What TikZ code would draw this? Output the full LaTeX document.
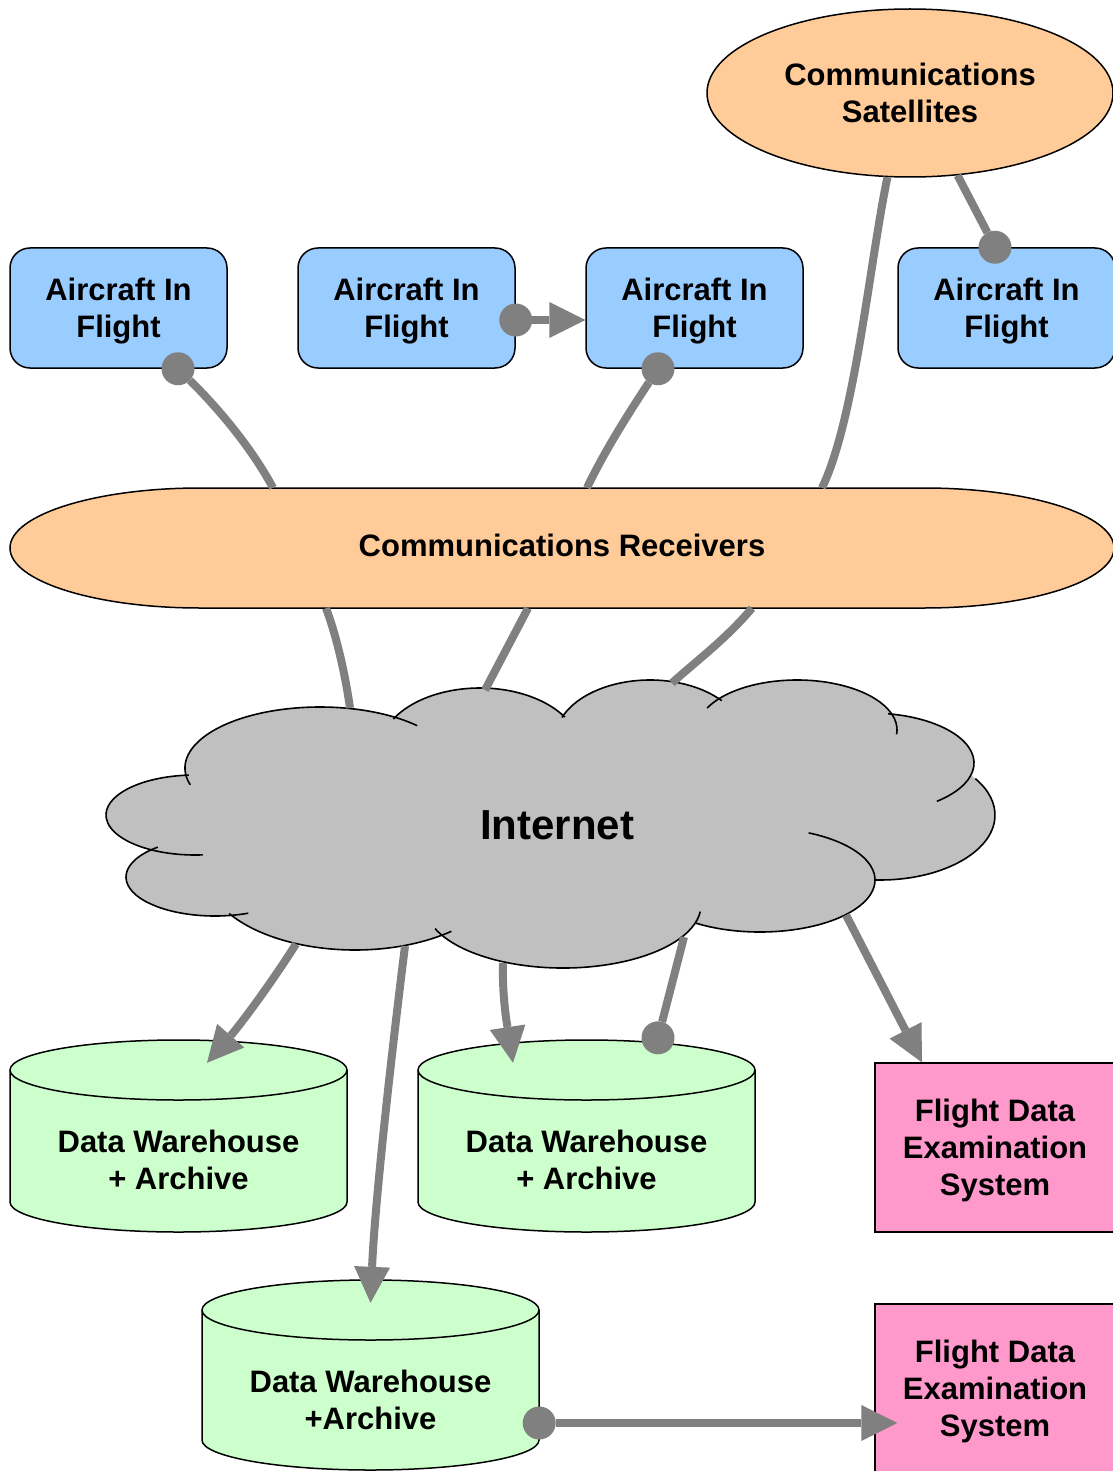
\documentclass[tikz,border=0pt]{standalone}
\usepackage{fontspec}
\setmainfont{Liberation Sans}
\usetikzlibrary{arrows.meta,shapes.geometric}

\definecolor{craftblue}{HTML}{99CCFF}
\definecolor{commorange}{HTML}{FFCC99}
\definecolor{storegreen}{HTML}{CCFFCC}
\definecolor{exampink}{HTML}{FF99CC}
\definecolor{netgray}{HTML}{C0C0C0}
\definecolor{linkgray}{HTML}{808080}

\tikzset{
  boxtext/.style={align=center, font=\bfseries\fontsize{31}{37}\selectfont, inner sep=0pt, text depth=0pt},
  aircraft/.style={boxtext, draw, line width=1.5pt, fill=craftblue, rounded corners=20pt, minimum width=217pt, minimum height=120pt},
  examiner/.style={boxtext, draw, line width=1.2pt, fill=exampink, minimum width=240pt, minimum height=169pt},
  store/.style={boxtext, minimum width=337pt, minimum height=144pt},
  link/.style={draw=linkgray, line width=8pt},
  dotlink/.style={link, arrows={Circle[length=33pt,line width=0pt]-}, shorten <=-16.5pt},
  linkdot/.style={link, arrows={-Circle[length=33pt,line width=0pt]}, shorten >=-16.5pt},
  arrowlink/.style={link, arrows={-Triangle[length=36pt,width=36pt,line width=0pt]}},
  dotarrow/.style={link, arrows={Circle[length=33pt,line width=0pt]-Triangle[length=36pt,width=36pt,line width=0pt]}, shorten <=-16.5pt}
}

\begin{document}
\begin{tikzpicture}[x=1pt, y=-1pt]
    \useasboundingbox (0,0) rectangle (1112,1471);

    % satellites and aircraft
    \node[ellipse, draw, line width=1.5pt, fill=commorange, minimum width=406pt, minimum height=168pt, boxtext] (sat) at (910,93) {Communications\\Satellites};

    \node[aircraft] (air1) at (118.5,308) {Aircraft In\\Flight};
    \node[aircraft] (air2) at (406.5,308) {Aircraft In\\Flight};
    \node[aircraft] (air3) at (694.5,308) {Aircraft In\\Flight};
    \node[aircraft] (air4) at (1006.5,308) {Aircraft In\\Flight};

    % receivers
    \draw[line width=1.5pt, fill=commorange] (10,548) arc[start angle=180, end angle=90, x radius=190pt, y radius=60pt] -- (924,488)
        arc[start angle=90, end angle=0, x radius=190pt, y radius=60pt]
        arc[start angle=0, end angle=-90, x radius=190pt, y radius=60pt] -- (200,608)
        arc[start angle=270, end angle=180, x radius=190pt, y radius=60pt] -- cycle;
    \node[boxtext, text depth=6pt, minimum width=1104pt, minimum height=120pt] (rcv) at (562,548) {Communications Receivers};

    % internet cloud
    \foreach \cx/\cy/\rx/\ry in {320/768/135/61, 195/815/89/40, 215/877/89/39, 355/870/150/80, 563/905/138/63, 760/880/115/52,
                                 880/815/115/65, 870/763/104/50, 797/730/100/50, 650/740/95/60, 480/750/100/62, 560/820/280/90}
        \fill[netgray] (\cx,\cy) ellipse [x radius=\rx*1pt, y radius=\ry*1pt];
    \foreach \cx/\cy/\rx/\ry/\a/\b in {320/768/135/61/196/44, 195/815/89/40/94/275, 215/877/89/39/130/292, 355/870/150/80/213/310,
                                       563/905/138/63/202/354, 760/880/115/52/236/425, 880/815/115/65/268/394, 870/763/104/50/80/-50,
                                       797/730/100/50/154/-5, 650/740/95/60/158/41, 480/750/100/62/150/32}
        \draw[line width=1.6pt] ({\cx+\rx*cos(\a)},{\cy-\ry*sin(\a)}) arc[start angle=\a, end angle=\b, x radius=\rx*1pt, y radius=\ry*1pt];
    \node[font=\bfseries\fontsize{42}{50}\selectfont] (internet) at (557,825) {Internet};

    \coordinate (inetNW) at (350,708);
    \coordinate (inetN) at (485,690);
    \coordinate (inetNE) at (672,683);
    \coordinate (inetSW) at (296,944);
    \coordinate (inetS1) at (405,946);
    \coordinate (inetS2) at (503,963);
    \coordinate (inetS3) at (684,937);
    \coordinate (inetSE) at (846,915);

    % warehouses
    \foreach \cx/\ty/\by in {178.5/1040/1232, 586.5/1040/1232, 370.5/1280/1470}{
        \draw[line width=1.5pt, fill=storegreen] (\cx-168.5,\ty+30) -- (\cx-168.5,\by-30)
            arc[start angle=180, end angle=360, x radius=168.5pt, y radius=30pt] -- (\cx+168.5,\ty+30)
            arc[start angle=0, end angle=180, x radius=168.5pt, y radius=30pt] -- cycle;
        \draw[line width=1.5pt] (\cx-168.5,\ty+30) arc[start angle=180, end angle=360, x radius=168.5pt, y radius=30pt];
    }
    \node[store] (dw1) at (178.5,1160) {Data Warehouse\\+ Archive};
    \node[store] (dw2) at (586.5,1160) {Data Warehouse\\+ Archive};
    \node[store] (dw3) at (370.5,1400) {Data Warehouse\\+Archive};

    \node[examiner] (fde1) at (995,1147.5) {Flight Data\\Examination\\System};
    \node[examiner] (fde2) at (995,1388.5) {Flight Data\\Examination\\System};

    % links
    \draw[dotlink] ([xshift=59.5pt]air1.south) .. controls (215,405) and (250,445) .. ([xshift=-289pt]rcv.north);
    \draw[dotarrow] ([yshift=-12pt]air2.east) -- ([yshift=-12pt]air3.west);
    \draw[dotlink] ([xshift=-36.5pt]air3.south) .. controls (632,408) and (605,450) .. ([xshift=25pt]rcv.north);
    \draw[link] (sat.255) .. controls (870,260) and (855,420) .. ([xshift=260pt]rcv.north);
    \draw[linkdot] (sat.300) -- ([xshift=-11.5pt]air4.north);

    \draw[link] ([xshift=-236pt]rcv.south) .. controls (338,640) and (346,680) .. (inetNW);
    \draw[link] ([xshift=-34pt]rcv.south) -- (inetN);
    \draw[link] ([xshift=190pt]rcv.south) .. controls (725,640) and (695,662) .. (inetNE);

    \draw[arrowlink] (inetSW) .. controls (270,985) and (240,1025) .. ([xshift=28.5pt,yshift=25pt]dw1.north);
    \draw[arrowlink] (inetS1) .. controls (392,1050) and (375,1200) .. ([yshift=25pt]dw3.north);
    \draw[arrowlink] (inetS2) .. controls (502,1000) and (508,1030) .. ([xshift=-73.5pt,yshift=25pt]dw2.north);
    \draw[linkdot] (inetS3) -- ([xshift=71.5pt,yshift=50pt]dw2.north);
    \draw[arrowlink] (inetSE) -- ([xshift=-73pt]fde1.north);
    \draw[dotarrow] ([yshift=-23pt]dw3.east) -- ([xshift=23pt,yshift=-34.5pt]fde2.west);
\end{tikzpicture}
\end{document}
